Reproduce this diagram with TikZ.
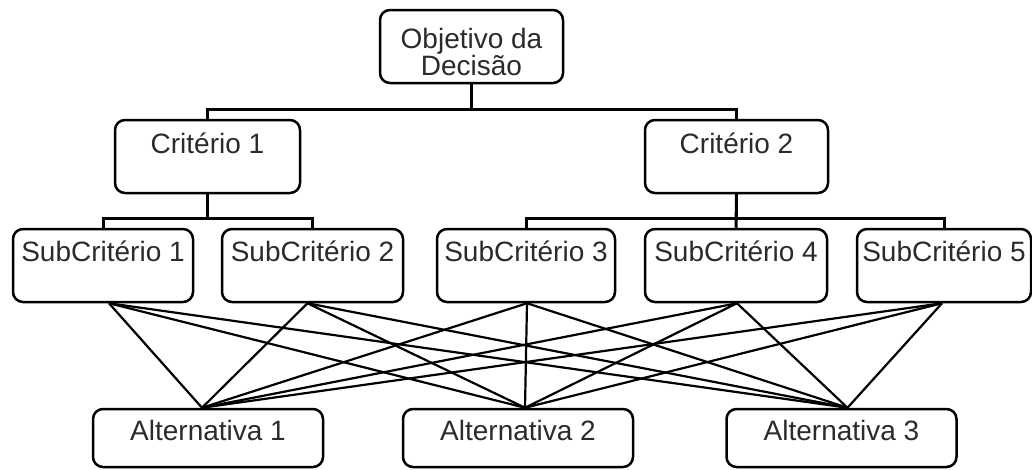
\documentclass[tikz,border=0pt]{standalone}
\usepackage{fontspec}
\setmainfont{Liberation Sans}
\definecolor{txt}{HTML}{2B2B2B}
\begin{document}
\begin{tikzpicture}[x=1pt,y=-1pt,
  box/.style={draw=black, line width=2.5pt, rounded corners=10pt, inner sep=0pt,
    text=txt, font=\fontsize{28}{27}\selectfont, anchor=base},
  subbox/.style={box, text height=32pt, text depth=41pt},
  critbox/.style={box, text height=33pt, text depth=40pt},
  altbox/.style={box, minimum width=230pt, text height=31pt, text depth=27pt},
  tree/.style={line width=3pt},
  cross/.style={line width=2.2pt}]
\useasboundingbox[fill=white] (0,0) rectangle (1032,469);

\node[box, align=center, minimum width=183pt, text height=65pt, text depth=8pt] (obj) at (471.5,75) {Objetivo da\\Decisão};

\node[critbox, minimum width=185pt] (c1) at (207.5,153) {Critério 1};
\node[critbox, minimum width=183pt] (c2) at (736.5,153) {Critério 2};

\node[subbox, minimum width=180pt] (s1) at (103,261) {SubCritério 1};
\node[subbox, minimum width=181pt] (s2) at (312.5,261) {SubCritério 2};
\node[subbox, minimum width=178pt] (s3) at (526,261) {SubCritério 3};
\node[subbox, minimum width=182pt] (s4) at (736,261) {SubCritério 4};
\node[subbox, minimum width=174pt] (s5) at (944,261) {SubCritério 5};

\node[altbox] (a1) at (208,440) {Alternativa 1};
\node[altbox] (a2) at (518,440) {Alternativa 2};
\node[altbox] (a3) at (841.5,440) {Alternativa 3};

% hierarchy
\draw[tree] (obj.south) -- ++(0,25) -| (c1.north);
\draw[tree] (obj.south) -- ++(0,25) -| (c2.north);
\draw[tree] (c1.south) -- ++(0,24) -| (s1.north);
\draw[tree] (c1.south) -- ++(0,24) -| (s2.north);
\draw[tree] (c2.south) -- ++(0,24) -| (s3.north);
\draw[tree] (c2.south) -- (s4.north);
\draw[tree] (c2.south) -- ++(0,24) -| (s5.north);

% connection points
\coordinate (s1b) at ([xshift=6pt]s1.south);
\coordinate (s2b) at ([xshift=-5pt]s2.south);
\coordinate (s3b) at ([xshift=1pt]s3.south);
\coordinate (s4b) at ([xshift=1pt]s4.south);
\coordinate (s5b) at ([xshift=-2pt]s5.south);
\coordinate (a1t) at ([xshift=-6pt]a1.north);
\coordinate (a2t) at ([xshift=7pt]a2.north);
\coordinate (a3t) at ([xshift=6pt]a3.north);

\foreach \s in {s1b,s2b,s3b,s4b,s5b}{
  \foreach \a in {a1t,a2t,a3t}{
    \draw[cross] (\s) -- (\a);
  }
}
\end{tikzpicture}
\end{document}
